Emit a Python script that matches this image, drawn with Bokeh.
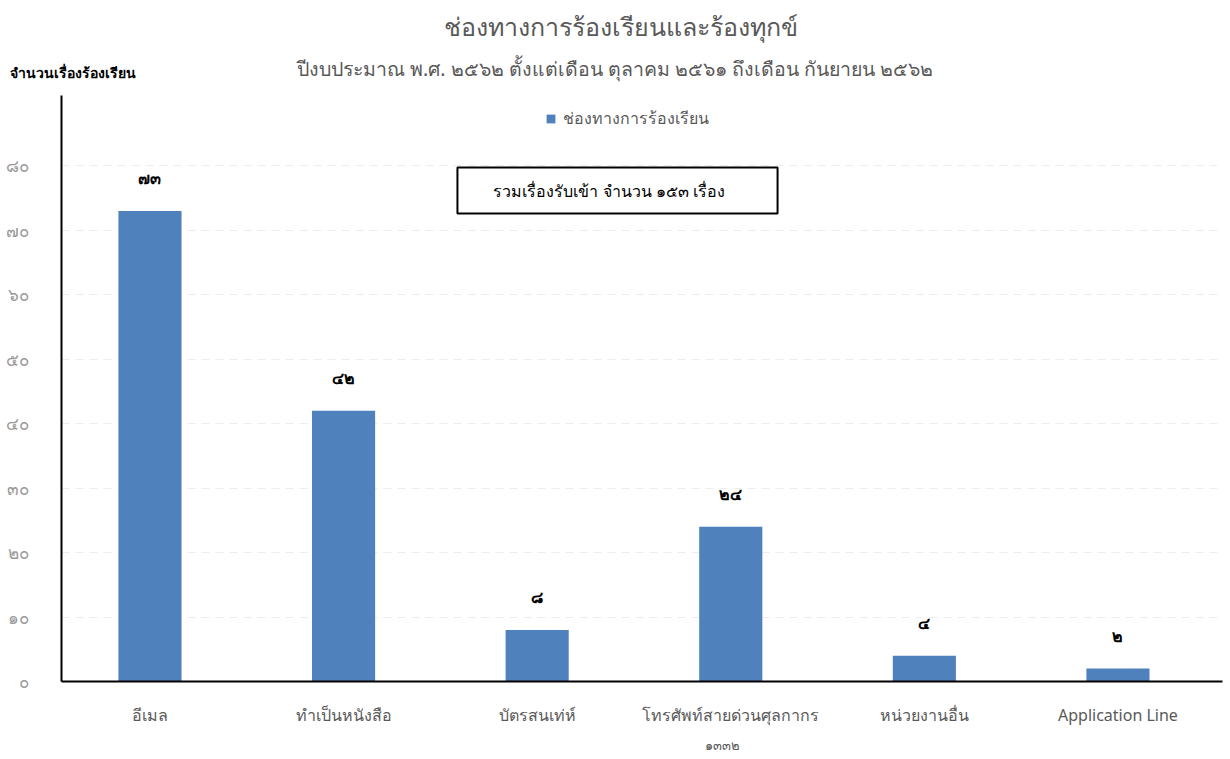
from bokeh.plotting import figure
from bokeh.layouts import column
from bokeh.models import (ColumnDataSource, Range1d, FixedTicker, LabelSet, Label,
                          Legend, Title)
from bokeh.embed import file_html
from bokeh.resources import INLINE

# ---- data ----
categories = ["อีเมล", "ทำเป็นหนังสือ", "บัตรสนเท่ห์", "โทรศัพท์สายด่วนศุลกากร",
              "หน่วยงานอื่น", "Application Line"]
values = [73, 42, 8, 24, 4, 2]
value_labels = ["๗๓", "๔๒", "๘", "๒๔", "๔", "๒"]
y_tick_values = [0, 10, 20, 30, 40, 50, 60, 70, 80]
y_tick_labels = ["๐", "๑๐", "๒๐", "๓๐", "๔๐", "๕๐", "๖๐", "๗๐", "๘๐"]
series_name = "ช่องทางการร้องเรียน"
title_text = "ช่องทางการร้องเรียนและร้องทุกข์"
subtitle_text = "ปีงบประมาณ พ.ศ. ๒๕๖๒  ตั้งแต่เดือน ตุลาคม ๒๕๖๑ ถึงเดือน กันยายน ๒๕๖๒"
y_label_text = "จำนวนเรื่องร้องเรียน"
x_label_text = "๑๓๓๒"
total_text = "รวมเรื่องรับเข้า  จำนวน   ๑๕๓  เรื่อง"

FONT = "Noto Sans"
BAR = "#4F81BD"
GRAY = "#595959"

# ---- header (titles) ----
head = figure(width=1230, height=95, output_backend="svg", toolbar_location=None,
              x_range=Range1d(0, 1230), y_range=Range1d(0, 95),
              x_axis_type=None, y_axis_type=None,
              min_border=0, min_border_left=0, min_border_right=0,
              min_border_top=0, min_border_bottom=0)
head.frame_align = False
head.outline_line_color = None
head.grid.visible = False
head.add_layout(Label(x=620, y=70, x_units="screen", y_units="screen",
                      text=title_text, text_align="center", text_baseline="middle",
                      text_font=FONT, text_font_size="25px", text_color=GRAY,
                      text_font_style="normal"))
head.add_layout(Label(x=617, y=27, x_units="screen", y_units="screen",
                      text=subtitle_text, text_align="center", text_baseline="middle",
                      text_font=FONT, text_font_size="19.5px", text_color=GRAY,
                      text_font_style="normal"))
head.add_layout(Label(x=9, y=23, x_units="screen", y_units="screen",
                      text=y_label_text, text_align="left", text_baseline="middle",
                      text_font=FONT, text_font_size="14px", text_font_style="bold",
                      text_color="black"))

# ---- main chart ----
xs = list(range(len(categories)))
src = ColumnDataSource(dict(x=xs, top=values, lab=value_labels))

p = figure(width=1230, height=664, output_backend="svg", toolbar_location=None,
           x_range=Range1d(-0.457, 5.54), y_range=Range1d(0, 90.9),
           min_border_left=61, min_border_right=8, min_border_top=0,
           min_border_bottom=78)
p.outline_line_color = None

r = p.vbar(x="x", top="top", width=0.326, source=src, fill_color=BAR,
           line_color=None)

p.xaxis.ticker = FixedTicker(ticks=xs)
p.xaxis.major_label_overrides = {i: c for i, c in zip(xs, categories)}
p.xaxis.major_tick_line_color = None
p.xaxis.minor_tick_line_color = None
p.xaxis.axis_line_color = "black"
p.xaxis.axis_line_width = 2
p.xaxis.major_label_text_font = FONT
p.xaxis.major_label_text_font_size = "16px"
p.xaxis.major_label_text_color = GRAY
p.xaxis.major_label_standoff = 16

p.yaxis.ticker = FixedTicker(ticks=y_tick_values)
p.yaxis.major_label_overrides = {v: l for v, l in zip(y_tick_values, y_tick_labels)}
p.yaxis.major_tick_line_color = None
p.yaxis.minor_tick_line_color = None
p.yaxis.axis_line_color = "black"
p.yaxis.axis_line_width = 2
p.yaxis.major_label_text_font = FONT
p.yaxis.major_label_text_font_size = "17px"
p.yaxis.major_label_text_color = "#9a9a9a"
p.yaxis.major_label_standoff = 27

p.xgrid.visible = False
p.ygrid.ticker = FixedTicker(ticks=y_tick_values[1:])
p.ygrid.grid_line_color = "#ededed"
p.ygrid.grid_line_dash = "8 6"

p.add_layout(LabelSet(x="x", y="top", text="lab", source=src, y_offset=24,
                      text_align="center", text_baseline="bottom",
                      text_font=FONT, text_font_size="16px",
                      text_font_style="bold", text_color="black"))

legend = Legend(items=[(series_name, [r])], location=(484, 550),
                orientation="horizontal", padding=0, margin=0,
                border_line_color=None, background_fill_alpha=0,
                glyph_width=11, glyph_height=11, label_standoff=7,
                label_text_font=FONT, label_text_font_size="16px",
                label_text_color=GRAY)
p.add_layout(legend)

p.add_layout(Label(x=556, y=491, x_units="screen", y_units="screen",
                   text=total_text, text_align="center", text_baseline="middle",
                   text_font=FONT, text_font_size="16px", text_color="black",
                   border_line_color="black", border_line_width=2,
                   background_fill_color="white",
                   padding=dict(left=36, right=36, top=12, bottom=12)))

p.add_layout(Title(text=x_label_text, align="left", offset=643,
                   text_font=FONT, text_font_size="13px", text_color=GRAY,
                   text_font_style="normal"), "below")

layout = column(head, p, spacing=0)
open("out.html", "w").write(file_html(layout, INLINE))
